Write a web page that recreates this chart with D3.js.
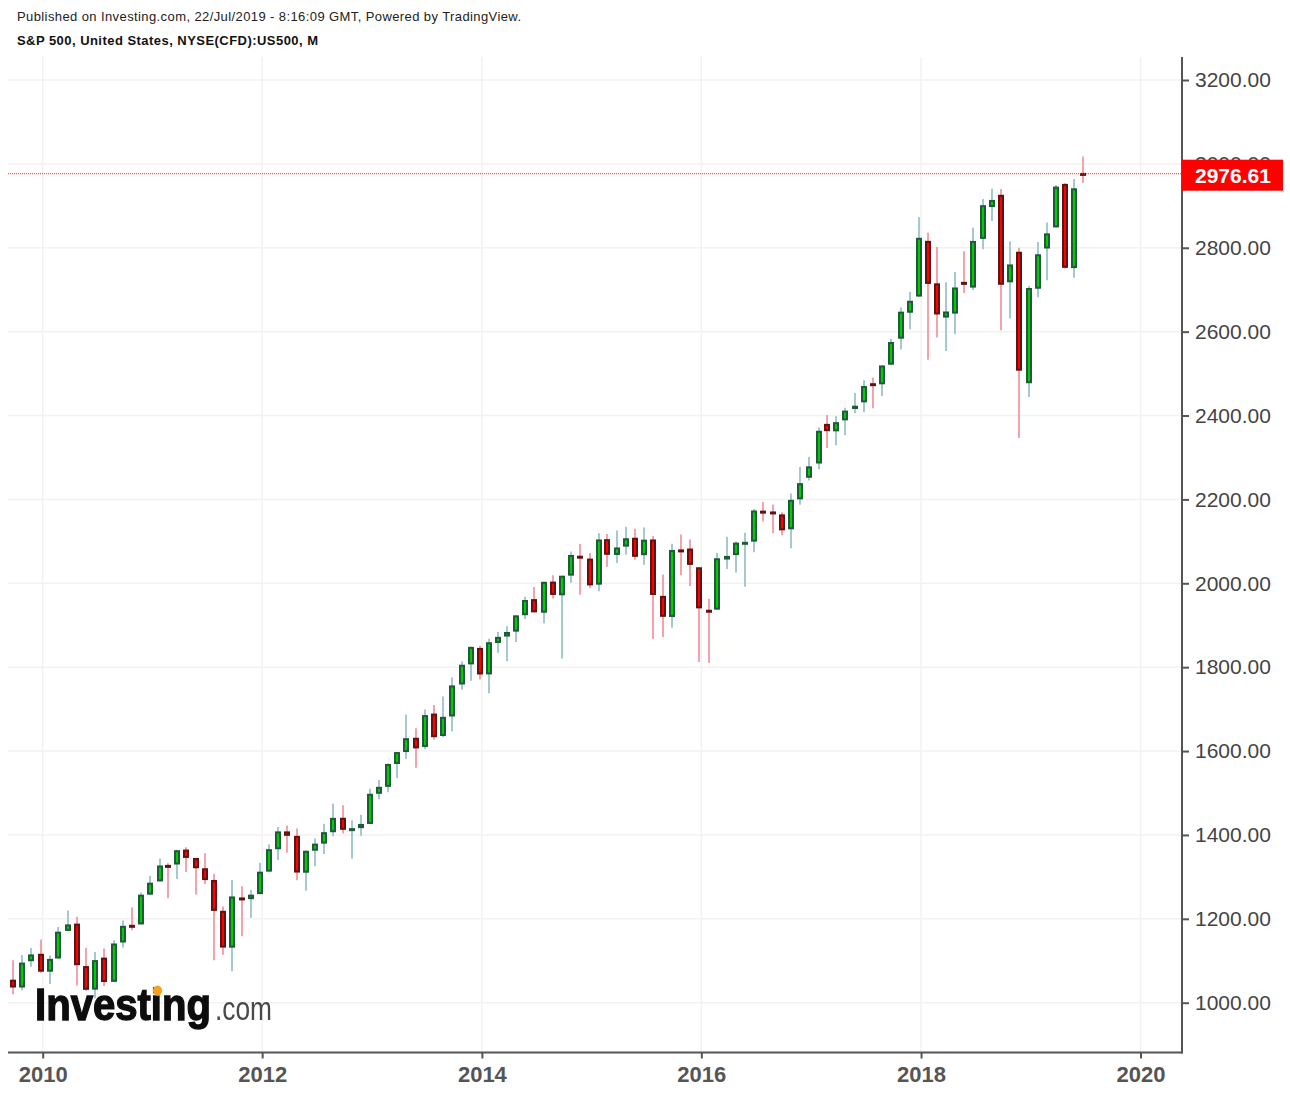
<!DOCTYPE html>
<html><head><meta charset="utf-8">
<script src="https://cdn.jsdelivr.net/npm/d3@7"></script>
<style>html,body{margin:0;padding:0;background:#fff;overflow:hidden}</style>
</head><body>
<svg id="chart" width="1290" height="1094"></svg>
<script>
// ---- DATA (S&P 500 CFD, monthly) ----
const months = [
 "2009-10","2009-11","2009-12",
 "2010-01","2010-02","2010-03","2010-04","2010-05","2010-06","2010-07","2010-08","2010-09","2010-10","2010-11","2010-12",
 "2011-01","2011-02","2011-03","2011-04","2011-05","2011-06","2011-07","2011-08","2011-09","2011-10","2011-11","2011-12",
 "2012-01","2012-02","2012-03","2012-04","2012-05","2012-06","2012-07","2012-08","2012-09","2012-10","2012-11","2012-12",
 "2013-01","2013-02","2013-03","2013-04","2013-05","2013-06","2013-07","2013-08","2013-09","2013-10","2013-11","2013-12",
 "2014-01","2014-02","2014-03","2014-04","2014-05","2014-06","2014-07","2014-08","2014-09","2014-10","2014-11","2014-12",
 "2015-01","2015-02","2015-03","2015-04","2015-05","2015-06","2015-07","2015-08","2015-09","2015-10","2015-11","2015-12",
 "2016-01","2016-02","2016-03","2016-04","2016-05","2016-06","2016-07","2016-08","2016-09","2016-10","2016-11","2016-12",
 "2017-01","2017-02","2017-03","2017-04","2017-05","2017-06","2017-07","2017-08","2017-09","2017-10","2017-11","2017-12",
 "2018-01","2018-02","2018-03","2018-04","2018-05","2018-06","2018-07","2018-08","2018-09","2018-10","2018-11","2018-12",
 "2019-01","2019-02","2019-03","2019-04","2019-05","2019-06","2019-07"
];
const opens = [
 1054.9,1036.2,1098.9,
 1116.6,1073.9,1105.4,1171.2,1188.6,1087.3,1031.1,1107.5,1049.7,1143.5,1185.7,1186.6,
 1257.6,1289.1,1328.6,1329.5,1365.2,1345.2,1320.6,1292.6,1219.1,1131.2,1251.0,1246.9,
 1258.9,1312.5,1365.9,1408.5,1397.9,1309.9,1362.3,1379.3,1406.5,1440.9,1412.2,1416.2,
 1426.2,1498.1,1514.7,1569.2,1597.6,1631.7,1609.8,1689.4,1635.9,1682.4,1758.7,1806.6,
 1845.9,1782.7,1857.7,1873.0,1884.7,1923.9,1962.3,1929.8,2004.1,1971.4,2018.2,2065.8,
 2058.9,1996.7,2105.2,2067.6,2087.4,2108.6,2067.0,2104.5,1970.1,1919.7,2080.8,2082.9,
 2038.2,1936.9,1937.1,2056.6,2067.2,2093.9,2099.3,2173.2,2171.3,2164.3,2128.7,2200.2,
 2251.6,2285.6,2380.1,2362.3,2388.5,2415.6,2431.4,2477.1,2474.4,2521.2,2583.2,2645.1,
 2683.7,2816.5,2715.2,2633.5,2643.0,2718.7,2705.0,2821.2,2897.0,2926.3,2717.6,2790.5,
 2477.0,2702.3,2798.2,2848.6,2952.3,2751.5,2978.5
];
const highs = [
 1101.4,1113.7,1130.4,
 1150.5,1112.4,1180.7,1219.8,1205.1,1131.2,1120.9,1129.2,1148.9,1196.1,1227.1,1262.6,
 1302.7,1344.1,1332.3,1364.6,1370.6,1345.2,1356.5,1307.4,1229.3,1292.7,1277.6,1269.4,
 1333.5,1378.0,1419.2,1422.4,1415.3,1363.5,1391.7,1426.7,1474.5,1470.9,1434.3,1448.0,
 1509.9,1530.9,1570.3,1597.6,1687.2,1654.2,1698.8,1709.7,1730.0,1775.2,1813.6,1849.4,
 1850.8,1867.9,1883.9,1897.3,1924.0,1968.2,1991.4,2005.0,2019.3,2018.2,2075.8,2093.6,
 2072.4,2119.6,2117.5,2125.9,2134.7,2129.9,2132.8,2112.7,2021.0,2094.3,2116.5,2104.3,
 2038.2,1963.0,2072.2,2111.1,2099.9,2120.6,2177.1,2193.8,2187.9,2169.6,2214.1,2277.5,
 2301.0,2371.5,2401.0,2398.2,2418.7,2453.8,2484.0,2490.9,2519.4,2583.0,2657.7,2695.0,
 2872.9,2836.0,2801.9,2717.5,2742.2,2791.5,2848.0,2916.5,2940.9,2939.9,2815.2,2800.2,
 2709.0,2813.5,2860.3,2949.5,2954.1,2964.2,3017.8
];
const lows = [
 1020.0,1029.4,1085.9,
 1071.6,1044.5,1105.4,1170.7,1040.8,1028.3,1010.9,1039.7,1049.7,1131.9,1173.0,1186.6,
 1257.6,1289.1,1249.1,1294.7,1311.8,1258.1,1282.9,1101.5,1114.2,1074.8,1158.7,1202.4,
 1258.9,1312.5,1340.0,1357.4,1291.9,1267.0,1325.4,1354.7,1396.6,1403.3,1343.4,1398.1,
 1426.2,1485.0,1501.5,1536.0,1581.3,1560.3,1604.6,1627.5,1633.4,1646.5,1746.2,1767.9,
 1770.5,1737.9,1834.4,1814.4,1859.8,1915.0,1930.7,1904.8,1964.0,1820.7,2001.0,1972.6,
 1988.1,1980.9,2039.7,2048.4,2067.9,2056.3,2044.0,1867.0,1871.9,1893.7,2019.4,1993.3,
 1812.3,1810.1,1937.1,2033.8,2025.9,1991.7,2074.0,2147.6,2119.1,2114.7,2083.8,2187.4,
 2245.1,2271.7,2322.3,2329.0,2352.7,2405.7,2407.7,2417.4,2446.6,2520.4,2557.5,2605.5,
 2682.4,2532.7,2585.9,2553.8,2594.6,2692.0,2699.0,2796.3,2864.1,2603.5,2631.1,2346.6,
 2444.0,2681.8,2722.3,2848.6,2750.5,2728.8,2955.0
];
const closes = [
 1036.2,1095.6,1115.1,
 1073.9,1104.5,1169.4,1186.7,1089.4,1030.7,1101.6,1049.3,1141.2,1183.3,1180.6,1257.6,
 1286.1,1327.2,1325.8,1363.6,1345.2,1320.6,1292.3,1218.9,1131.4,1253.3,1246.9,1257.6,
 1312.4,1366.0,1408.5,1397.9,1310.3,1362.2,1379.3,1406.6,1440.7,1412.2,1416.2,1426.2,
 1498.1,1514.7,1569.2,1597.6,1630.7,1606.3,1685.7,1633.0,1681.6,1756.5,1805.8,1848.4,
 1782.6,1859.5,1872.3,1883.9,1923.6,1960.2,1930.7,2003.4,1972.3,2018.1,2067.6,2058.9,
 1995.0,2104.5,2067.9,2085.5,2107.4,2063.1,2104.0,1972.2,1920.0,2079.4,2080.4,2043.9,
 1940.2,1932.2,2059.7,2065.3,2097.0,2098.9,2173.6,2170.9,2168.3,2126.2,2199.0,2238.8,
 2278.9,2363.6,2362.7,2384.2,2411.8,2423.4,2470.3,2471.7,2519.4,2575.3,2647.6,2673.6,
 2823.8,2713.8,2640.9,2648.1,2705.3,2718.4,2816.3,2901.5,2914.0,2711.7,2760.2,2506.9,
 2704.1,2784.5,2834.4,2945.8,2752.1,2941.8,2976.61
];
const yTickValues = [1000,1200,1400,1600,1800,2000,2200,2400,2600,2800,3000,3200];
const xTickYears = [2010,2012,2014,2016,2018,2020];
const lastPrice = 2976.61;
const headerLine = "Published on Investing.com, 22/Jul/2019 - 8:16:09 GMT, Powered by TradingView.";
const titleLine = "S&P 500, United States, NYSE(CFD):US500, M";

// ---- LAYOUT ----
const plotLeft = 8, plotRight = 1182, plotTop = 57, plotBottom = 1052.5;
const FONT = "'Liberation Sans', Arial, sans-serif";
const svg = d3.select("#chart");
svg.append("rect").attr("width",1290).attr("height",1094).attr("fill","#fff");

const parse = d3.utcParse("%Y-%m");
const data = months.map((m,i)=>({date:parse(m), o:opens[i], h:highs[i], l:lows[i], c:closes[i]}));

const x = d3.scaleUtc()
  .domain([new Date(Date.UTC(2010,0,1)), new Date(Date.UTC(2020,0,1))])
  .range([42.7, 1140.5]);
const y = d3.scaleLinear().domain([1000,3200]).range([1002.7,80]);

// gridlines
const grid = svg.append("g");
grid.selectAll("line.h").data(yTickValues).join("line")
  .attr("x1",plotLeft).attr("x2",plotRight)
  .attr("y1",d=>y(d)).attr("y2",d=>y(d))
  .attr("stroke","#f2f2f2").attr("stroke-width",1.5);
grid.selectAll("line.v").data(xTickYears).join("line")
  .attr("x1",d=>x(new Date(Date.UTC(d,0,1)))).attr("x2",d=>x(new Date(Date.UTC(d,0,1))))
  .attr("y1",plotTop).attr("y2",plotBottom)
  .attr("stroke","#f2f2f2").attr("stroke-width",1.5);

// candles
const cx = d => Math.round(x(d.date) - 2);
const up = d => d.c >= d.o;
const cg = svg.append("g");
cg.selectAll("line.wick").data(data).join("line")
  .attr("x1",cx).attr("x2",cx)
  .attr("y1",d=>y(d.h)).attr("y2",d=>y(d.l))
  .attr("stroke",d=>up(d)?"#a6c8d0":"#f4a3ad").attr("stroke-width",2);
cg.selectAll("rect.body").data(data).join("rect")
  .attr("x",d=>cx(d)-2).attr("width",4)
  .attr("y",d=>y(Math.max(d.o,d.c))+1)
  .attr("height",d=>Math.max(1, Math.abs(y(d.o)-y(d.c))-2))
  .attr("fill",d=>up(d)?"#00cc00":"#ff0000")
  .attr("stroke",d=>up(d)?"#1f5a3a":"#5e1414").attr("stroke-width",2);

// last price dotted line
svg.append("line")
  .attr("x1",plotLeft).attr("x2",plotRight+4)
  .attr("y1",y(lastPrice)).attr("y2",y(lastPrice))
  .attr("stroke","#ff2a2a").attr("stroke-width",1).attr("stroke-dasharray","1,1");

// axes
const yAxis = d3.axisRight(y).tickValues(yTickValues).tickFormat(d3.format(".2f")).tickSize(7).tickPadding(6);
const ya = svg.append("g").attr("transform",`translate(${plotRight},0)`).call(yAxis);
ya.select(".domain").remove();
ya.selectAll(".tick line").attr("stroke","#555").attr("stroke-width",2);
ya.selectAll(".tick text").attr("fill","#444").attr("font-family",FONT).attr("font-size",21);
svg.append("line").attr("x1",plotRight).attr("x2",plotRight).attr("y1",plotTop).attr("y2",plotBottom+1)
  .attr("stroke","#555").attr("stroke-width",2);

const xAxis = d3.axisBottom(x).tickValues(xTickYears.map(v=>new Date(Date.UTC(v,0,1))))
  .tickFormat(d3.utcFormat("%Y")).tickSize(6).tickPadding(8);
const xa = svg.append("g").attr("transform",`translate(0,${plotBottom})`).call(xAxis);
xa.select(".domain").remove();
xa.selectAll(".tick line").attr("stroke","#555").attr("stroke-width",2);
xa.selectAll(".tick text").attr("fill","#555").attr("font-family",FONT)
  .attr("font-size",22).attr("font-weight","bold");
svg.append("line").attr("x1",plotLeft).attr("x2",plotRight+1).attr("y1",plotBottom).attr("y2",plotBottom)
  .attr("stroke","#555").attr("stroke-width",2);

// last price label (covers the 3000.00 tick label, as in the original)
const lp = svg.append("g");
lp.append("rect").attr("x",plotRight).attr("y",y(lastPrice)-14).attr("width",101).attr("height",31).attr("fill","#ff0000");
lp.append("text").attr("x",plotRight+13).attr("y",y(lastPrice)+1.5).attr("dy","0.35em")
  .attr("fill","#fff").attr("font-family",FONT).attr("font-size",21)
  .attr("font-weight","bold").text(d3.format(".2f")(lastPrice));

// header
svg.append("text").attr("x",17).attr("y",21).attr("font-family",FONT)
  .attr("font-size",13).attr("fill","#222").attr("textLength",504).attr("lengthAdjust","spacing").text(headerLine);
svg.append("text").attr("x",17).attr("y",44.5).attr("font-family",FONT)
  .attr("font-size",13).attr("font-weight","bold").attr("fill","#111").attr("textLength",301).attr("lengthAdjust","spacing").text(titleLine);

// logo
const defs = svg.append("defs");
defs.append("filter").attr("id","soft").append("feGaussianBlur").attr("stdDeviation",0.7);
const logo = svg.append("g").attr("filter","url(#soft)")
  .attr("transform","translate(0,1020) scale(1,1.13) translate(0,-1020)");
logo.append("text").attr("x",35).attr("y",1020).attr("font-family",FONT)
  .attr("font-size",39.5).attr("font-weight","bold").attr("fill","#111")
  .attr("stroke","#111").attr("stroke-width",1.2)
  .attr("textLength",176).attr("lengthAdjust","spacingAndGlyphs").text("Investing");
logo.append("text").attr("x",215).attr("y",1020).attr("font-family",FONT)
  .attr("font-size",30).attr("fill","#4a4a4a")
  .attr("textLength",57).attr("lengthAdjust","spacingAndGlyphs").text(".com");
logo.append("circle").attr("cx",157.5).attr("cy",994).attr("r",4.6).attr("fill","#f7a21b");
</script>
</body></html>
